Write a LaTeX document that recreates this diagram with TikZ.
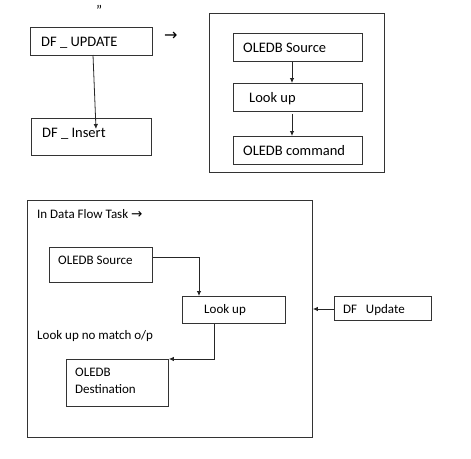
\documentclass[tikz,border=0pt]{standalone}
\usepackage{fontspec}
\setmainfont{Carlito}
\newfontfamily\symfont{DejaVu Sans}
\usetikzlibrary{arrows.meta}
\begin{document}
\begin{tikzpicture}[x=1pt,y=-1pt,
  box/.style={draw=black!80,line width=0.9pt,rectangle,inner sep=0pt,anchor=north west},
  txtA/.style={anchor=base west,inner sep=0pt,font=\fontsize{14.5}{17}\selectfont},
  txtB/.style={anchor=base west,inner sep=0pt,font=\fontsize{13}{16}\selectfont},
  conn/.style={draw=black!85,line width=0.8pt,-{Latex[length=5pt,width=4.5pt]}}]
\useasboundingbox (0,0) rectangle (471,458);
% top left
\node[txtA] (quote) at (96,15) {”};
\node[box,minimum width=122pt,minimum height=28pt] (upd) at (30,27) {};
\node[txtA] (updt) at (41,46) {DF \_ UPDATE};
\node[box,minimum width=120pt,minimum height=37pt] (ins) at (31,118) {};
\node[txtA] (inst) at (42,137) {DF \_ Insert};
\coordinate (a1) at (93,55);
\coordinate (a2) at (96,129);
\draw[conn] (a1) -- (a2);
\node[anchor=base west,inner sep=0pt,font=\symfont\fontsize{16}{18}\selectfont] (arr1) at (164,40) {→};
% top right
\node[box,minimum width=175pt,minimum height=159pt] (outer1) at (209,13) {};
\node[box,minimum width=129pt,minimum height=28pt] (src1) at (233,33) {};
\node[txtA] (src1t) at (243,52) {OLEDB Source};
\node[box,minimum width=129pt,minimum height=28pt] (lk1) at (233,83) {};
\node[txtA] (lk1t) at (249,102) {Look up};
\node[box,minimum width=129pt,minimum height=28pt] (cmd1) at (233,136) {};
\node[txtA] (cmd1t) at (243,155) {OLEDB command};
\draw[conn] (src1.south -| 292,0) -- (lk1.north -| 292,0);
\draw[conn] (lk1.south -| 292,0) ++(0,2) -- (cmd1.north -| 292,0);
% bottom
\node[box,minimum width=285pt,minimum height=237pt] (outer2) at (27,200) {};
\node[txtB] (dft) at (37,218) {In Data Flow Task {\symfont\fontsize{13.5}{15}\selectfont →}};
\node[box,minimum width=103pt,minimum height=35pt] (src2) at (49,247) {};
\node[txtB] (src2t) at (58,264) {OLEDB Source};
\node[box,minimum width=103pt,minimum height=27pt] (lk2) at (182,296) {};
\node[txtB] (lk2t) at (204,313) {Look up};
\node[txtB] (nm) at (37,339) {Look up no match o/p};
\node[box,minimum width=102pt,minimum height=47pt] (dst) at (66,359) {};
\node[txtB] (dst1) at (75,376) {OLEDB};
\node[txtB] (dst2) at (75,393) {Destination};
\node[box,minimum width=97pt,minimum height=24pt] (dfu) at (334,296) {};
\node[txtB] (dfut) at (343,313) {DF\ \ \ Update};
\draw[conn] (src2.east |- 0,257) -- (199,257) -- (lk2.north -| 199,0);
\draw[conn] (lk2.south -| 214,0) -- (214,359) -- (dst.north east);
\draw[conn] (dfu.west |- 0,309) -- (outer2.east |- 0,309);
\end{tikzpicture}
\end{document}
